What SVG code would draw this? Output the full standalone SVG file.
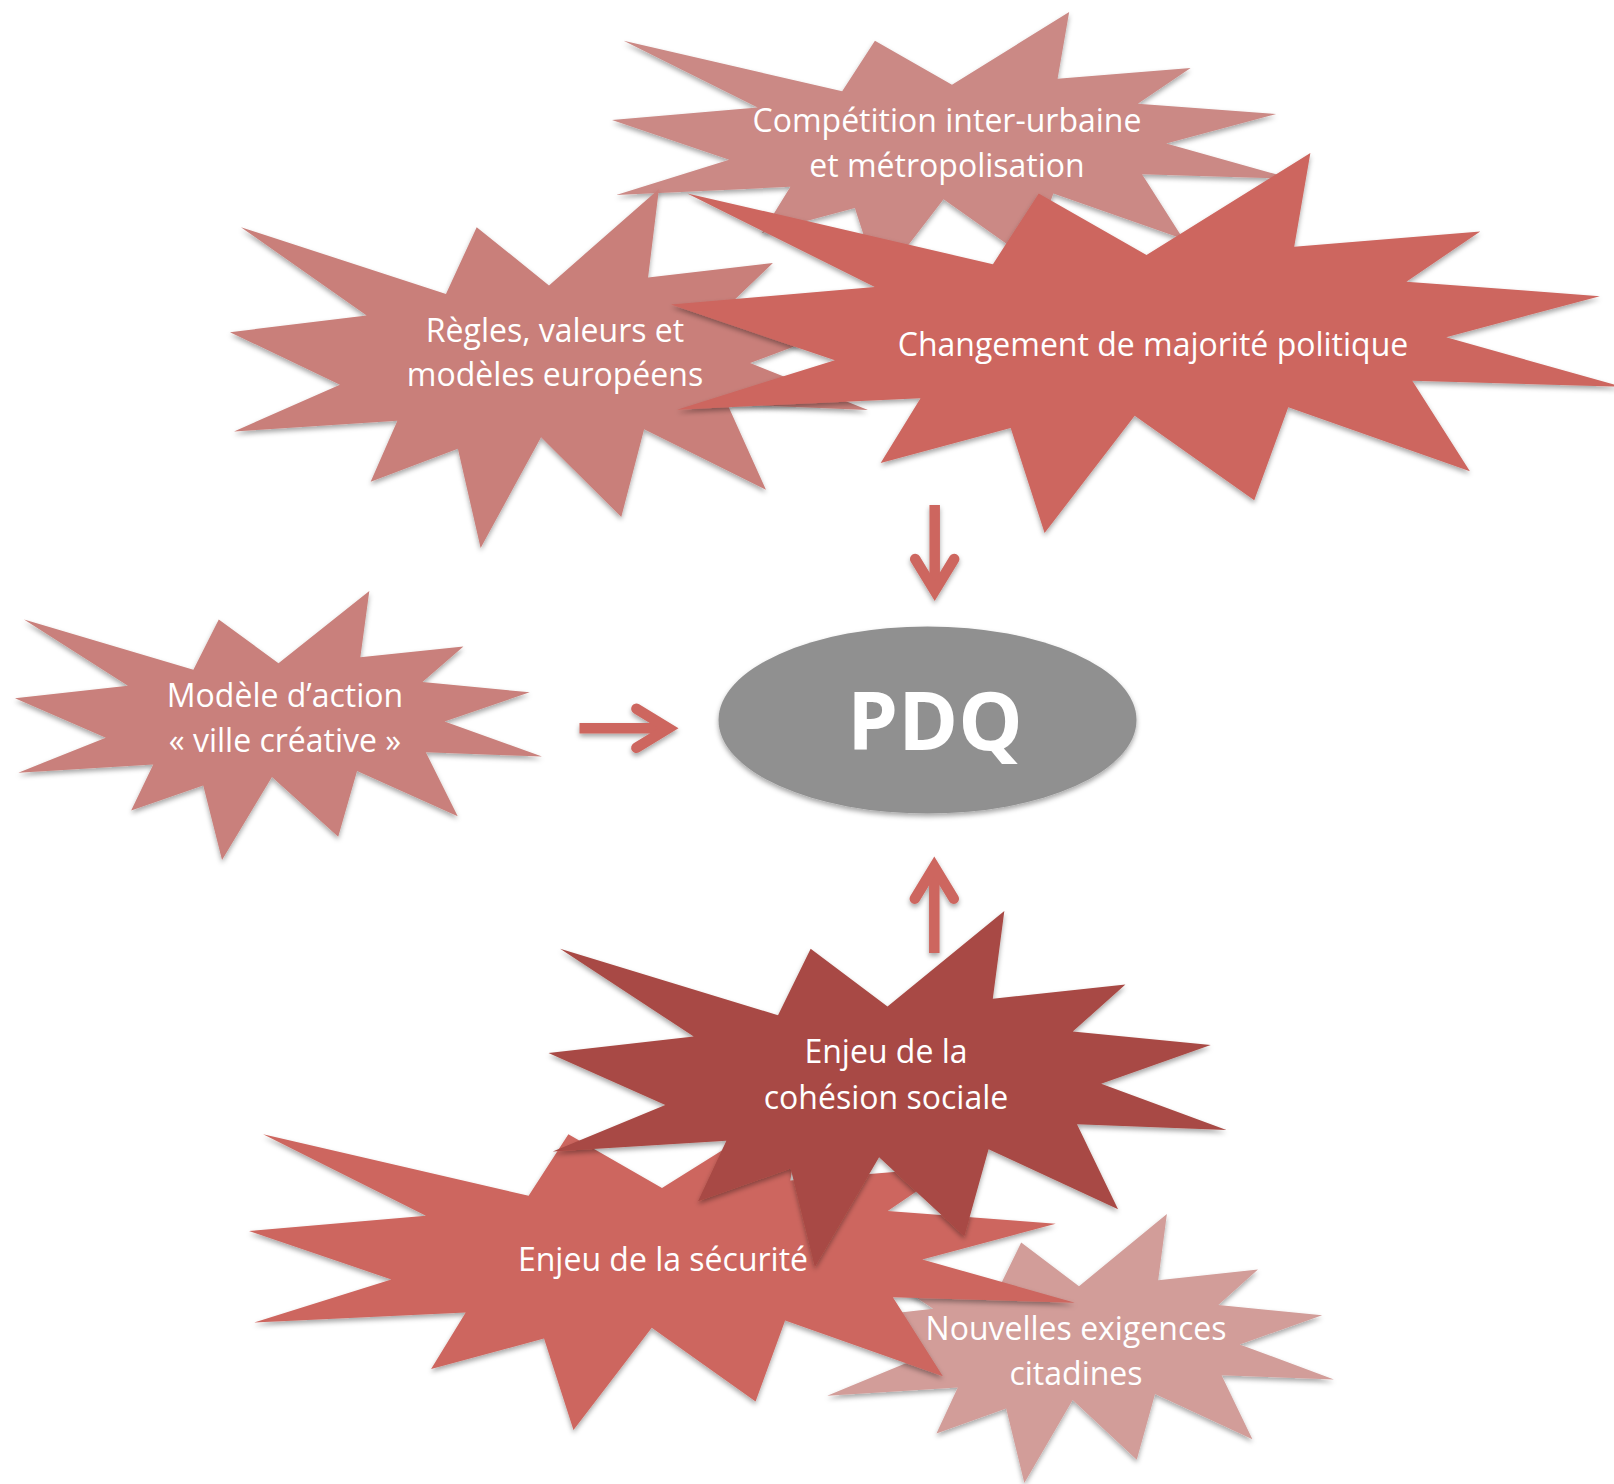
<svg xmlns="http://www.w3.org/2000/svg" xmlns:xlink="http://www.w3.org/1999/xlink" width="1614" height="1484" viewBox="0 0 1614 1484">
  <style>
    .lbl { font-family: "Open Sans", "Liberation Sans", sans-serif; font-size: 32px; fill: #ffffff; text-anchor: middle; }
    .hub { font-family: "Open Sans", "Liberation Sans", sans-serif; font-size: 81px; font-weight: bold; fill: #ffffff; text-anchor: middle; }
    .link { stroke: #CD665F; stroke-width: 10.5; fill: none; stroke-linecap: butt; }
  </style>
  <defs>
    <!-- explosion outline in a 21600 x 21600 box -->
    <path id="seal" d="M10800,5800 L14522,0 L14155,5325 L18380,4457 L16702,7315 L21097,8137 L17607,10475 L21600,13290 L16837,12942 L18145,18095 L14020,14457 L13247,19737 L10532,14935 L8485,21600 L7715,15627 L4762,17617 L5667,13937 L135,14587 L3722,11775 L0,8615 L4627,7617 L370,2295 L7312,6320 L8352,2295 Z"/>
    <filter id="shadow" x="-10%" y="-10%" width="120%" height="130%">
      <feDropShadow dx="0" dy="3" stdDeviation="2.5" flood-color="#000000" flood-opacity="0.35"/>
    </filter>
    <marker id="head" markerUnits="userSpaceOnUse" orient="auto" refX="0" refY="0" markerWidth="60" markerHeight="60" overflow="visible">
      <path d="M-32,-19.5 L0,0 L-32,19.5" fill="none" stroke="#CD665F" stroke-width="10.5" stroke-linecap="round" stroke-linejoin="miter"/>
    </marker>
  </defs>

  <rect width="1614" height="1484" fill="#ffffff"/>

  <g id="competition">
    <g filter="url(#shadow)"><use xlink:href="#seal" fill="#CB8985" transform="translate(612,12) scale(0.031481,0.012546)"/></g>
    <text class="lbl" x="947" y="132">Compétition inter-urbaine</text>
    <text class="lbl" x="947" y="177">et métropolisation</text>
  </g>

  <g id="regles">
    <g filter="url(#shadow)"><use xlink:href="#seal" fill="#C97F7A" transform="translate(230,189) scale(0.029537,0.016620)"/></g>
    <text class="lbl" x="555" y="342">Règles, valeurs et</text>
    <text class="lbl" x="555" y="386">modèles européens</text>
  </g>

  <g id="changement">
    <g filter="url(#shadow)"><use xlink:href="#seal" fill="#CD665F" transform="translate(671,153) scale(0.044028,0.017593)"/></g>
    <text class="lbl" x="1153" y="356">Changement de majorité politique</text>
  </g>

  <g id="modele">
    <g filter="url(#shadow)"><use xlink:href="#seal" fill="#C9807B" transform="translate(15,591) scale(0.024398,0.012454)"/></g>
    <text class="lbl" x="285" y="707">Modèle d’action</text>
    <text class="lbl" x="285" y="752">« ville créative »</text>
  </g>

  <g id="nouvelles">
    <g filter="url(#shadow)"><use xlink:href="#seal" fill="#D29D99" transform="translate(824,1214) scale(0.023611,0.012454)"/></g>
    <text class="lbl" x="1076" y="1340">Nouvelles exigences</text>
    <text class="lbl" x="1076" y="1385">citadines</text>
  </g>

  <g id="securite">
    <g filter="url(#shadow)"><use xlink:href="#seal" fill="#CD665F" transform="translate(249,1099) scale(0.038241,0.015324)"/></g>
    <text class="lbl" x="663" y="1271">Enjeu de la sécurité</text>
  </g>

  <g id="cohesion">
    <g filter="url(#shadow)"><use xlink:href="#seal" fill="#A84A44" transform="translate(548.5,911) scale(0.031389,0.016481)"/></g>
    <text class="lbl" x="886" y="1063">Enjeu de la</text>
    <text class="lbl" x="886" y="1109">cohésion sociale</text>
  </g>

  <g id="pdq">
    <ellipse cx="927.5" cy="720" rx="209" ry="93.5" fill="#909090" filter="url(#shadow)"/>
    <text class="hub" x="935" y="750">PDQ</text>
  </g>

  <g id="connectors" filter="url(#shadow)">
    <line class="link" x1="934.7" y1="505" x2="934.7" y2="591" marker-end="url(#head)"/>
    <line class="link" x1="579.5" y1="728.3" x2="668.4" y2="728.3" marker-end="url(#head)"/>
    <line class="link" x1="934.3" y1="953" x2="934.3" y2="866.7" marker-end="url(#head)"/>
  </g>
</svg>
